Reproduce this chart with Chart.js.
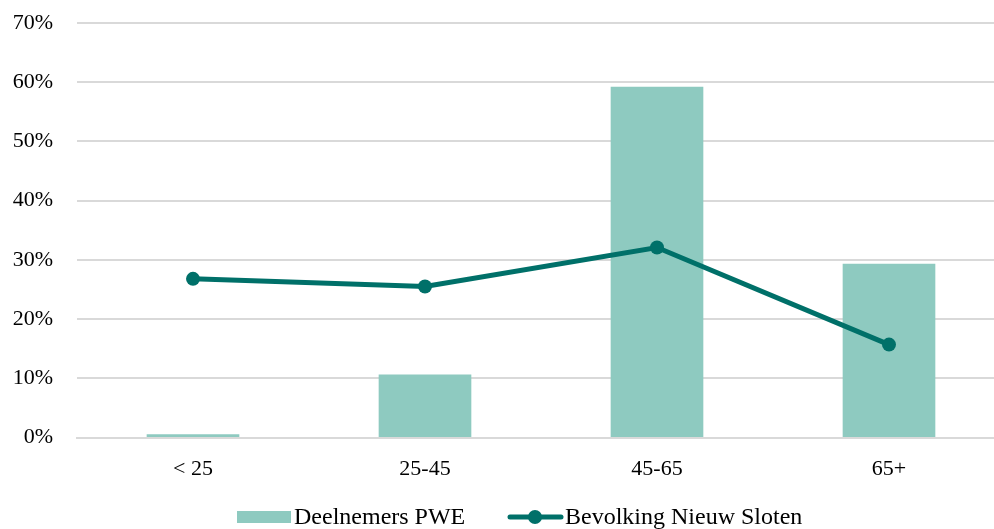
<!DOCTYPE html>
<html>
<head>
<meta charset="utf-8">
<script src="https://cdn.jsdelivr.net/npm/chart.js@4"></script>
<style>
html,body{margin:0;padding:0;overflow:hidden;background:#fff;}
#wrap{width:1005px;height:529px;position:relative;}
</style>
</head>
<body>
<div id="wrap"><canvas id="c"></canvas></div>
<script>
const categories = ['< 25', '25-45', '45-65', '65+'];
const deelnemersPWE = [0.5, 10.6, 59.2, 29.3];
const bevolkingNieuwSloten = [26.8, 25.5, 32.1, 15.7];
const yTicks = [0, 10, 20, 30, 40, 50, 60, 70];
const seriesNames = ['Deelnemers PWE', 'Bevolking Nieuw Sloten'];

const barColor = '#8ecac0';
const lineColor = '#007069';
const fontFamily = '"Liberation Serif", "Times New Roman", serif';

const legendPlugin = {
  id: 'customLegend',
  afterDraw(chart) {
    const ctx = chart.ctx;
    ctx.save();
    const y = 517;
    ctx.font = '24px ' + fontFamily;
    ctx.textBaseline = 'middle';
    ctx.fillStyle = barColor;
    ctx.fillRect(237, y - 6, 54, 12);
    ctx.fillStyle = '#000';
    ctx.fillText(seriesNames[0], 294, y + 1);
    ctx.strokeStyle = lineColor;
    ctx.lineWidth = 5;
    ctx.lineCap = 'round';
    ctx.beginPath();
    ctx.moveTo(510, y);
    ctx.lineTo(561, y);
    ctx.stroke();
    ctx.fillStyle = lineColor;
    ctx.beginPath();
    ctx.arc(535, y, 7, 0, Math.PI * 2);
    ctx.fill();
    ctx.fillStyle = '#000';
    ctx.fillText(seriesNames[1], 565, y + 1);
    ctx.restore();
  }
};

new Chart(document.getElementById('c'), {
  data: {
    labels: categories,
    datasets: [
      {
        type: 'line',
        label: seriesNames[1],
        data: bevolkingNieuwSloten,
        borderColor: lineColor,
        backgroundColor: lineColor,
        borderWidth: 5,
        pointRadius: 7,
        pointHoverRadius: 7,
        pointBackgroundColor: lineColor,
        pointBorderWidth: 0,
        tension: 0,
        clip: false,
        order: 0
      },
      {
        type: 'bar',
        label: seriesNames[0],
        data: deelnemersPWE,
        backgroundColor: barColor,
        barThickness: 92,
        order: 1
      }
    ]
  },
  plugins: [legendPlugin],
  options: {
    responsive: true,
    maintainAspectRatio: false,
    animation: false,
    layout: { autoPadding: false, padding: { top: 23, bottom: 37, left: 0, right: 0 } },
    plugins: {
      legend: { display: false },
      tooltip: { enabled: false }
    },
    scales: {
      x: {
        grid: { display: false },
        border: { display: true, color: '#d9d9d9', width: 2 },
        ticks: { color: '#000', font: { family: fontFamily, size: 22 }, padding: 10 }
      },
      y: {
        min: 0,
        max: 70,
        afterBuildTicks(axis) { axis.ticks = yTicks.map(v => ({ value: v })); },
        afterFit(axis) { axis.width = 77; axis.paddingTop = 0; axis.paddingBottom = 0; },
        grid: { color: '#d9d9d9', lineWidth: 2, drawTicks: false },
        border: { display: false },
        ticks: {
          color: '#000',
          font: { family: fontFamily, size: 22 },
          padding: 24,
          callback: v => v + '%'
        }
      }
    }
  }
});
</script>
</body>
</html>
